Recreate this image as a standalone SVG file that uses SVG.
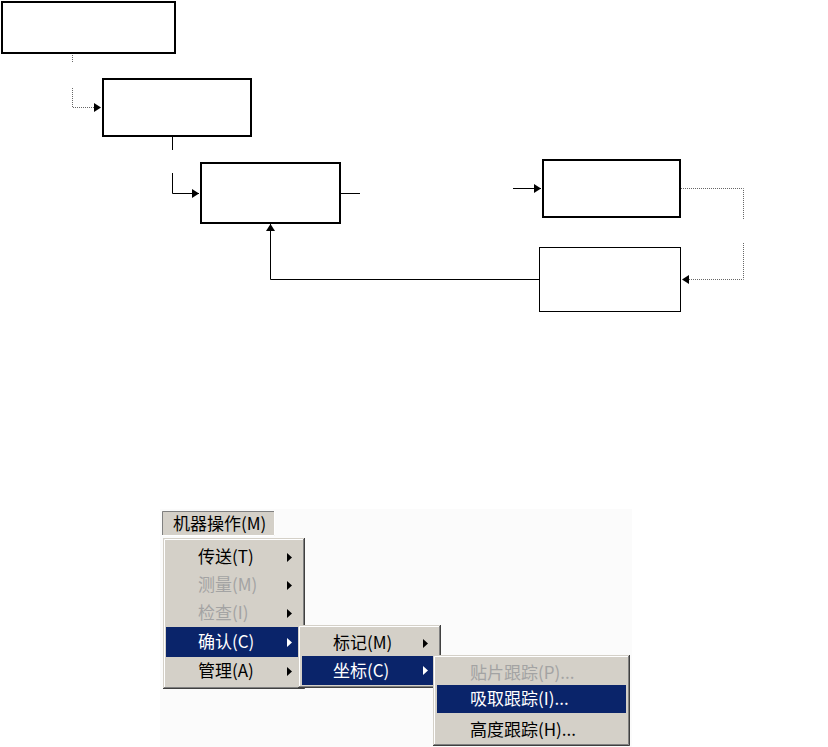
<svg xmlns="http://www.w3.org/2000/svg" width="828" height="747" viewBox="0 0 828 747">
<style>
.box{fill:#fff;stroke:#000;stroke-width:2}
.thin{fill:#fff;stroke:#000;stroke-width:1}
.solid{fill:none;stroke:#000;stroke-width:1}
.dot{fill:none;stroke:#666;stroke-width:1;stroke-dasharray:1 1}
.mbg{fill:#d4d0c8}
.hl{fill:#0a246a}
.lt{stroke:#fff;stroke-width:1;fill:none}
.md{stroke:#808080;stroke-width:1;fill:none}
.dk{stroke:#404040;stroke-width:1;fill:none}
.t{font-family:"Noto Sans CJK SC","Noto Sans",sans-serif;font-size:17px;fill:#000}
.dis{fill:#a3a3a3}
.wt{fill:#fff}
.tri{fill:#000}
.triw{fill:#fff}
</style>
<defs>
<marker id="ah" markerUnits="userSpaceOnUse" markerWidth="8" markerHeight="9" refX="7" refY="4.5" orient="auto">
<path d="M0,0 L7,4.5 L0,9 z" fill="#000"/>
</marker>
</defs>
<rect width="828" height="747" fill="#fff"/>

<g id="connectors">
<path class="dot" d="M72.5,55 V63"/>
<path class="dot" d="M72.5,88 V107.5 H101" marker-end="url(#ah)"/>
<path class="solid" d="M172.5,137 V150"/>
<path class="solid" d="M172.5,173 V193.5 H199" marker-end="url(#ah)"/>
<path class="solid" d="M341,193.5 H360"/>
<path class="solid" d="M513,188.5 H541" marker-end="url(#ah)"/>
<path class="dot" d="M681,188.5 H743.5 V220"/>
<path class="dot" d="M743.5,243 V279.5 H682" marker-end="url(#ah)"/>
<path class="solid" d="M539,279.5 H270.5 V224" marker-end="url(#ah)"/>
</g>

<g id="node1"><rect class="box" x="2" y="2" width="173" height="51"/></g>
<g id="node2"><rect class="box" x="103" y="79" width="148" height="57"/></g>
<g id="node3"><rect class="box" x="201" y="163" width="139" height="60"/></g>
<g id="node4"><rect class="box" x="543" y="160" width="137" height="57"/></g>
<g id="node5"><rect class="thin" x="539.5" y="247.5" width="141" height="64"/></g>

<g id="menu-area">
<rect x="160" y="509" width="472" height="238" fill="#fbfbfb"/>
</g>

<g id="menubar">
<rect class="mbg" x="162" y="511" width="113" height="25"/>
<path class="md" d="M162.5,536 V511.5 H275"/>
<path class="lt" d="M274.5,511 V535.5 H162"/>
<text class="t" x="173" y="530">机器操作(M)</text>
</g>

<g id="menu1">
<rect class="mbg" x="163" y="538" width="142" height="151"/>
<path class="lt" d="M164.5,688 V539.5 H303"/>
<path class="md" d="M303.5,539 V687.5 H164"/>
<path class="dk" d="M304.5,538 V688.5 H163"/>
<rect class="hl" x="166" y="627" width="134" height="30"/>
<text class="t" x="198" y="563">传送(T)</text>
<text class="t dis" x="198" y="591">测量(M)</text>
<text class="t dis" x="198" y="619">检查(I)</text>
<text class="t wt" x="198" y="648">确认(C)</text>
<text class="t" x="198" y="677">管理(A)</text>
<path class="tri" d="M287,553 L292,557.5 L287,562 z"/>
<path class="tri" d="M287,581 L292,585.5 L287,590 z"/>
<path class="tri" d="M287,609 L292,613.5 L287,618 z"/>
<path class="triw" d="M287,638 L292,642.5 L287,647 z"/>
<path class="tri" d="M287,667 L292,671.5 L287,676 z"/>
</g>

<g id="menu2">
<rect class="mbg" x="298" y="625" width="143" height="63"/>
<path class="lt" d="M299.5,687 V626.5 H439"/>
<path class="md" d="M439.5,626 V686.5 H299"/>
<path class="dk" d="M440.5,625 V687.5 H298"/>
<rect class="hl" x="302" y="656" width="134" height="29"/>
<text class="t" x="333" y="649">标记(M)</text>
<text class="t wt" x="333" y="677">坐标(C)</text>
<path class="tri" d="M423,639 L428,643.5 L423,648 z"/>
<path class="triw" d="M423,666 L428,670.5 L423,675 z"/>
</g>

<g id="menu3">
<rect class="mbg" x="433" y="655" width="197" height="91"/>
<path class="lt" d="M434.5,745 V656.5 H628"/>
<path class="md" d="M628.5,656 V744.5 H434"/>
<path class="dk" d="M629.5,655 V745.5 H433"/>
<rect class="hl" x="437" y="685" width="189" height="28"/>
<text class="t dis" x="470" y="679">贴片跟踪(P)...</text>
<text class="t wt" x="470" y="705">吸取跟踪(I)...</text>
<text class="t" x="470" y="736">高度跟踪(H)...</text>
</g>
</svg>
